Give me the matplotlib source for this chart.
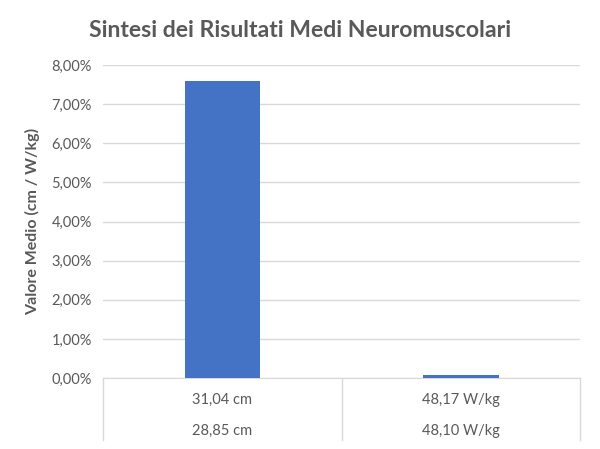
import matplotlib
matplotlib.use('Agg')
import matplotlib.pyplot as plt
from matplotlib.ticker import FuncFormatter

# data
values = [0.0759, 0.0008]
labels_top = ["31,04 cm", "48,17 W/kg"]
labels_bottom = ["28,85 cm", "48,10 W/kg"]
yticks = [0, 0.01, 0.02, 0.03, 0.04, 0.05, 0.06, 0.07, 0.08]

plt.rcParams['font.family'] = ['Lato', 'DejaVu Sans']
grey = '#595959'
grid = '#D9D9D9'

fig = plt.figure(figsize=(6, 4.49), dpi=100)
ax = fig.add_axes([0.172, 0.158, 0.795, 0.697])

x = range(len(values))
ax.bar(x, values, width=0.315, color='#4472C4', zorder=3)

ax.set_xlim(-0.5, len(values) - 0.5)
ax.set_ylim(0, 0.08)
ax.set_yticks(yticks)
ax.yaxis.set_major_formatter(FuncFormatter(lambda v, p: ('%.2f%%' % (v * 100)).replace('.', ',')))
ax.tick_params(axis='y', length=0, labelsize=10.5, colors=grey, pad=8)
ax.set_xticks([])
ax.grid(axis='y', color=grid, linewidth=1, zorder=0)
for s in ['top', 'right', 'left']:
    ax.spines[s].set_visible(False)
ax.spines['bottom'].set_color(grid)

# multi-level category axis
trans = ax.get_xaxis_transform()
for b in [-0.5, 0.5, 1.5]:
    ax.plot([b, b], [0, -0.198], color=grid, linewidth=1, transform=trans, clip_on=False)
for i in x:
    ax.text(i, -0.07, labels_top[i], transform=trans, ha='center', va='center', fontsize=10.5, color=grey)
    ax.text(i, -0.168, labels_bottom[i], transform=trans, ha='center', va='center', fontsize=10.5, color=grey)

ax.set_ylabel("Valore Medio (cm / W/kg)", fontsize=11.5, fontweight='bold', color=grey, labelpad=8)
fig.suptitle("Sintesi dei Risultati Medi Neuromuscolari", fontsize=16.6, fontweight='bold', color=grey, y=0.955)

plt.savefig('out.png', dpi=100)
